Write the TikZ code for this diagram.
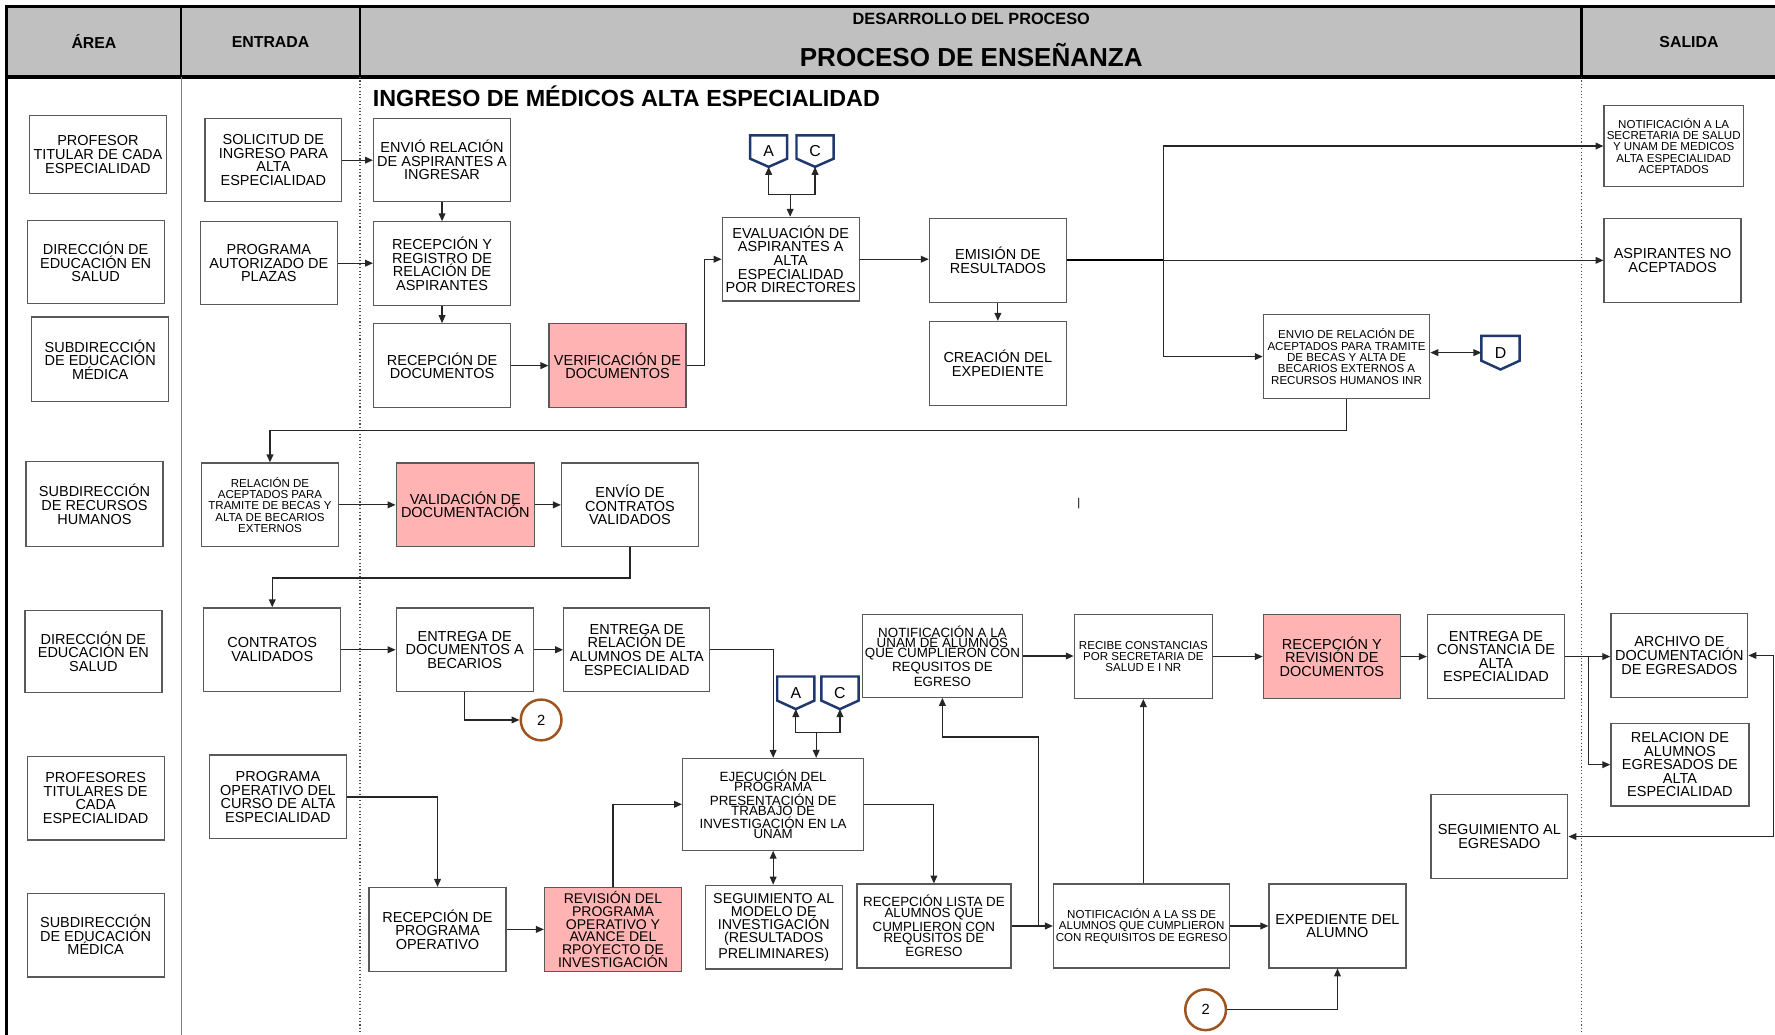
\documentclass[tikz,border=0pt]{standalone}
\usepackage{fontspec}
\setmainfont{Liberation Sans}
\usetikzlibrary{arrows.meta,calc}
\definecolor{pinkf}{RGB}{255,179,179}
\definecolor{navytag}{RGB}{31,56,110}
\definecolor{brownc}{RGB}{158,84,30}
\definecolor{hdr}{RGB}{192,192,192}
\newcommand\mybox[7][]{%
 \pgfmathsetmacro\bw{(#5-#3)*0.5}%
 \pgfmathsetmacro\bh{(#6-#4)*0.5}%
 \node[box,minimum width=\bw pt,minimum height=\bh pt,#1] (#2) at ({(#3+#5)/2},{(#4+#6)/2}) {#7};}
\newcommand\mytag[6]{%
 \pgfmathsetmacro\bw{(#4-#2)*0.5}%
 \pgfmathsetmacro\bh{(#5-#3)*0.5}%
 \node[tagtext,minimum width=\bw pt,minimum height=\bh pt] (#1) at ({(#2+#4)/2},{(#3+#5)/2}) {#6};
 \draw[tagline] (#1.north west) -- (#1.north east) -- ($(#1.north east)!0.74!(#1.south east)$) -- (#1.south) -- ($(#1.north west)!0.74!(#1.south west)$) -- cycle;}
\tikzset{
 box/.style={draw=black!65, line width=0.55pt, fill=white, align=center, inner sep=1pt, font=\fontsize{6.4}{6}\selectfont},
 sm/.style={font=\fontsize{5.1}{5}\selectfont},
 tight/.style={font=\fontsize{5.9}{4.5}\selectfont},
 pinkbox/.style={fill=pinkf},
 arr/.style={draw=black!85, line width=0.5pt, -{Triangle[length=3.5pt,width=3pt]}},
 dbl/.style={draw=black!85, line width=0.5pt, {Triangle[length=3.5pt,width=3pt]}-{Triangle[length=3.5pt,width=3pt]}},
 tagtext/.style={inner sep=0pt, font=\fontsize{7}{7}\selectfont},
 tagline/.style={draw=navytag, line width=1.1pt, line join=miter},
 circ/.style={circle, draw=brownc, line width=1.1pt, minimum size=18pt, inner sep=0pt, font=\fontsize{6.5}{6.5}\selectfont},
 hdrtxt/.style={font=\bfseries\fontsize{7}{7}\selectfont, inner sep=0pt}
}
\begin{document}
\begin{tikzpicture}[x=0.5pt,y=-0.5pt]
\useasboundingbox (0,0) rectangle (1568,914.3);
% header
\fill[hdr] (6,6) rectangle (1568,68);
\draw[line width=1.2pt] (1568,6) -- (6,6) -- (6,915);
\draw[line width=1.4pt] (6,68) -- (1568,68);
\foreach \x in {160,318,1397} \draw[line width=1.2pt] (\x,6) -- (\x,68);
\draw[gray, line width=0.4pt] (160,68) -- (160,915);
\draw[black!70, line width=0.5pt, densely dotted] (318,68) -- (318,915);
\draw[black!70, line width=0.5pt, densely dotted] (1397,68) -- (1397,915);
\node[hdrtxt] (harea) at (83,37) {ÁREA};
\node[hdrtxt] (hent) at (239,37) {ENTRADA};
\node[hdrtxt, font=\bfseries\fontsize{7.2}{7.2}\selectfont] (hdes) at (858,17) {DESARROLLO DEL PROCESO};
\node[hdrtxt, font=\bfseries\fontsize{11.5}{11.5}\selectfont] (hproc) at (858,49) {PROCESO DE ENSEÑANZA};
\node[hdrtxt] (hsal) at (1492,37) {SALIDA};
\node[anchor=west, font=\bfseries\fontsize{10.3}{10.5}\selectfont, inner sep=0pt] (title) at (329,85) {INGRESO DE MÉDICOS ALTA ESPECIALIDAD};
\node[inner sep=0pt, font=\fontsize{5}{5}\selectfont] (stray) at (953,445) {|};
% area column
\mybox{a1}{26}{102}{147}{171}{PROFESOR\\TITULAR  DE CADA\\ESPECIALIDAD}
\mybox{a2}{24}{195}{145}{268}{DIRECCIÓN DE\\EDUCACIÓN EN\\SALUD}
\mybox{a3}{28}{280}{149}{355}{SUBDIRECCIÓN\\DE EDUCACIÓN\\MÉDICA}
\mybox{a4}{23}{408}{144}{483}{SUBDIRECCIÓN\\DE RECURSOS\\HUMANOS}
\mybox{a5}{22}{539}{143}{612}{DIRECCIÓN DE\\EDUCACIÓN EN\\SALUD}
\mybox{a6}{24}{668}{145}{742}{PROFESORES\\TITULARES DE\\CADA\\ESPECIALIDAD}
\mybox{a7}{24}{789}{145}{863}{SUBDIRECCIÓN\\DE EDUCACIÓN\\MÉDICA}
% entrada
\mybox{sol}{181}{105}{302}{178}{SOLICITUD DE\\INGRESO PARA\\ALTA\\ESPECIALIDAD}
\mybox{prog}{177}{196}{298}{269}{PROGRAMA\\AUTORIZADO DE\\PLAZAS}
\mybox[sm]{relac}{178}{409}{299}{483}{RELACIÓN DE\\ACEPTADOS PARA\\TRAMITE DE BECAS Y\\ALTA DE BECARIOS\\EXTERNOS}
\mybox{cont}{180}{537}{301}{611}{CONTRATOS\\VALIDADOS}
\mybox{progop}{185}{667}{306}{741}{PROGRAMA\\OPERATIVO DEL\\CURSO DE ALTA\\ESPECIALIDAD}
% process row 1
\mybox{env}{330}{105}{451}{178}{ENVIÓ RELACIÓN\\DE ASPIRANTES A\\INGRESAR}
\mybox{rec}{330}{196}{451}{270}{RECEPCIÓN Y\\REGISTRO DE\\RELACIÓN DE\\ASPIRANTES}
\mybox{recdoc}{330}{286}{451}{360}{RECEPCIÓN DE\\DOCUMENTOS}
\mybox[pinkbox]{ver}{485}{286}{606}{360}{VERIFICACIÓN DE\\DOCUMENTOS}
\mybox{eva}{638}{192}{759}{266}{EVALUACIÓN DE\\ASPIRANTES A\\ALTA\\ESPECIALIDAD\\POR DIRECTORES}
\mybox{emi}{821}{193}{942}{267}{EMISIÓN DE\\RESULTADOS}
\mybox{cre}{821}{284}{942}{358}{CREACIÓN DEL\\EXPEDIENTE}
\mybox[sm]{envrel}{1116}{278}{1263}{352}{ENVIO DE RELACIÓN DE\\ACEPTADOS PARA TRAMITE\\DE BECAS Y ALTA DE\\BECARIOS EXTERNOS A\\RECURSOS HUMANOS INR}
\mybox[sm]{notsec}{1417}{93}{1540}{165}{NOTIFICACIÓN A LA\\SECRETARIA DE SALUD\\Y UNAM DE MEDICOS\\ALTA ESPECIALIDAD\\ACEPTADOS}
\mybox{noac}{1417}{193}{1538}{267}{ASPIRANTES NO\\ACEPTADOS}
\mytag{tA}{663}{120}{695}{147}{A}
\mytag{tC}{704}{120}{736}{147}{C}
\mytag{tD}{1309}{297}{1342}{326}{D}
% row 2
\mybox[pinkbox]{val}{350}{409}{472}{483}{VALIDACIÓN DE\\DOCUMENTACIÓN}
\mybox{envc}{496}{409}{617}{483}{ENVÍO DE\\CONTRATOS\\VALIDADOS}
% row 3
\mybox{entd}{350}{537}{471}{611}{ENTREGA DE\\DOCUMENTOS A\\BECARIOS}
\mybox{entr}{498}{537}{627}{611}{ENTREGA DE\\RELACIÓN DE\\ALUMNOS DE ALTA\\ESPECIALIDAD}
\node[circ] (c2a) at (478,636) {2};
\mytag{tA2}{687}{598}{719}{626}{A}
\mytag{tC2}{726}{598}{758}{626}{C}
\mybox[tight]{notun}{764}{543}{901}{616}{NOTIFICACIÓN A LA\\UNAM DE ALUMNOS\\QUE CUMPLIERON CON\\REQUSITOS DE\\EGRESO}
\mybox[sm]{recibe}{949}{543}{1071}{617}{RECIBE CONSTANCIAS\\POR SECRETARIA DE\\SALUD E I NR}
\mybox[pinkbox]{recrev}{1116}{543}{1237}{617}{RECEPCIÓN Y\\REVISIÓN DE\\DOCUMENTOS}
\mybox{entc}{1261}{543}{1382}{617}{ENTREGA DE\\CONSTANCIA DE\\ALTA\\ESPECIALIDAD}
\mybox{arch}{1423}{542}{1544}{616}{ARCHIVO DE\\DOCUMENTACIÓN\\DE EGRESADOS}
\mybox{relal}{1423}{639}{1545}{712}{RELACION DE\\ALUMNOS\\EGRESADOS DE\\ALTA\\ESPECIALIDAD}
\mybox{segeg}{1264}{702}{1385}{776}{SEGUIMIENTO AL\\EGRESADO}
% row 4
\mybox[font=\fontsize{5.9}{4.4}\selectfont]{ejec}{603}{670}{763}{751}{EJECUCIÓN DEL\\PROGRAMA\\PRESENTACIÓN DE\\TRABAJO DE\\INVESTIGACIÓN  EN LA\\UNAM}
\mybox{recp}{326}{784}{447}{858}{RECEPCIÓN DE\\PROGRAMA\\OPERATIVO}
\mybox[pinkbox,font=\fontsize{6.2}{5.6}\selectfont]{rev}{481}{784}{602}{858}{REVISIÓN DEL\\PROGRAMA\\OPERATIVO Y\\AVANCE DEL\\RPOYECTO DE\\INVESTIGACIÓN}
\mybox[font=\fontsize{6.3}{5.8}\selectfont]{seg}{623}{782}{744}{856}{SEGUIMIENTO AL\\MODELO DE\\INVESTIGACIÓN\\(RESULTADOS\\PRELIMINARES)}
\mybox[font=\fontsize{5.9}{4.75}\selectfont]{reclist}{757}{781}{893}{855}{RECEPCIÓN LISTA DE\\ALUMNOS QUE\\CUMPLIERON CON\\REQUSITOS DE\\EGRESO}
\mybox[sm]{notss}{931}{781}{1086}{855}{NOTIFICACIÓN A LA SS DE\\ALUMNOS QUE CUMPLIERON\\CON REQUISITOS DE EGRESO}
\mybox{exp}{1121}{781}{1242}{855}{EXPEDIENTE DEL\\ALUMNO}
\node[circ] (c2b) at (1065,892) {2};
% connectors row 1
\draw[arr] (sol.east) -- (sol.east -| env.west);
\draw[arr] (prog.east) -- (prog.east -| rec.west);
\draw[arr] (env.south) -- (rec.north);
\draw[arr] (rec.south) -- (recdoc.north);
\draw[arr] (recdoc.east) -- (recdoc.east -| ver.west);
\draw[arr] (ver.east) -- ++(16,0) |- (eva.west);
\coordinate (j1) at (698,172);
\draw[arr] (j1) -- (j1 |- eva.north);
\draw[arr] (j1) -| (tA.south);
\draw[arr] (j1) -| (tC.south);
\draw[arr] (eva.east) -- (eva.east -| emi.west);
\draw[arr] (emi.south) -- (cre.north);
\coordinate (j2) at (1028,230);
\draw[black, line width=1pt] (emi.east |- j2) -- (j2);
\draw[arr] (j2) -- (j2 -| noac.west);
\draw[arr] (j2) |- (notsec.west);
\draw[arr] (j2) |- (envrel.west);
\draw[dbl] (envrel.east |- tD) -- (tD.west);
\draw[arr] (envrel.south) -- ++(0,28) -| (relac.north);
% row 2
\draw[arr] (relac.east) -- (relac.east -| val.west);
\draw[arr] (val.east) -- (val.east -| envc.west);
\draw[arr] (envc.south) -- ++(0,27) -| (cont.north);
% row 3
\draw[arr] (cont.east) -- (cont.east -| entd.west);
\draw[arr] (entd.east) -- (entd.east -| entr.west);
\draw[arr] (entd.south) |- (c2a);
\draw[arr] (entr.east) -| (ejec.north);
\coordinate (j3) at (721,647);
\draw[arr] (j3) -| (tA2.south);
\draw[arr] (j3) -| (tC2.south);
\draw[arr] (j3) -- (j3 |- ejec.north);
\draw[arr] (progop.east) -| (recp.north);
\draw[arr] (recp.east) -- (recp.east -| rev.west);
\draw[arr] (rev.north) |- (ejec.west);
\draw[dbl] (ejec.south) -- (ejec.south |- seg.north);
\draw[arr] (ejec.east) -| (reclist.north);
\draw[arr] (reclist.east) -- (reclist.east -| notss.west);
\coordinate (j4) at (917,818);
\draw[arr] (j4) -- (917,651) -| (notun.south);
\draw[arr] (recibe.south |- notss.north) -- (recibe.south);
\draw[arr] (notun.east) -- (notun.east -| recibe.west);
\draw[arr] (recibe.east) -- (recibe.east -| recrev.west);
\draw[arr] (recrev.east) -- (recrev.east -| entc.west);
\draw[arr] (entc.east) -- (entc.east -| arch.west);
\coordinate (j5) at (1403,580);
\draw[arr] (j5) |- (relal.west);
\draw[dbl] (arch.east) -- ++(22,0) |- (segeg.east);
\draw[arr] (notss.east) -- (notss.east -| exp.west);
\draw[arr] (c2b.east) -| (exp.south);
\end{tikzpicture}
\end{document}
